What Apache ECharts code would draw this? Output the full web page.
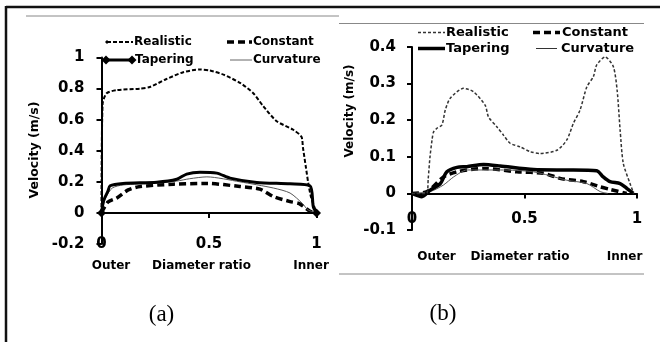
<!DOCTYPE html>
<html><head><meta charset="utf-8">
<script src="https://cdn.jsdelivr.net/npm/echarts@6/dist/echarts.min.js"></script>
<style>html,body{margin:0;padding:0;background:#fff}#c{width:660px;height:342px}</style>
</head><body><div id="c"></div>
<script>
// ---------- Panel (a) data ----------
const aRealX = [0, 0.005, 0.024, 0.07, 0.18, 0.225, 0.30, 0.38, 0.458, 0.505, 0.567, 0.644, 0.706, 0.753, 0.815, 0.892, 0.93, 0.937, 0.95, 0.962, 0.975, 1.0];
const aRealY = [0, 0.70, 0.77, 0.79, 0.80, 0.81, 0.86, 0.905, 0.923, 0.916, 0.89, 0.837, 0.77, 0.686, 0.59, 0.535, 0.49, 0.42, 0.30, 0.19, 0.10, 0];
const aTapX = [0, 0.01, 0.03, 0.04, 0.10, 0.257, 0.35, 0.396, 0.458, 0.536, 0.598, 0.722, 0.877, 0.97, 0.985, 1.0];
const aTapY = [0, 0.08, 0.14, 0.175, 0.19, 0.198, 0.217, 0.25, 0.262, 0.256, 0.224, 0.196, 0.187, 0.174, 0.04, 0];
const aConX = [0, 0.03, 0.07, 0.124, 0.18, 0.334, 0.49, 0.644, 0.737, 0.8, 0.877, 0.92, 0.97, 1.0];
const aConY = [0, 0.07, 0.095, 0.148, 0.17, 0.185, 0.19, 0.17, 0.153, 0.105, 0.073, 0.06, 0.01, 0];
const aCurX = [0, 0.02, 0.05, 0.10, 0.25, 0.35, 0.41, 0.49, 0.644, 0.8, 0.877, 0.935, 0.96, 1.0];
const aCurY = [0, 0.10, 0.16, 0.18, 0.19, 0.205, 0.22, 0.232, 0.20, 0.16, 0.128, 0.06, 0.02, 0];
// ---------- Panel (b) data ----------
const bRealX = [0, 0.065, 0.072, 0.08, 0.09, 0.096, 0.111, 0.133, 0.148, 0.17, 0.229, 0.273, 0.325, 0.34, 0.377, 0.407, 0.436, 0.481, 0.525, 0.569, 0.644, 0.688, 0.717, 0.747, 0.777, 0.806, 0.821, 0.858, 0.895, 0.912, 0.925, 0.939, 0.969, 0.985];
const bRealY = [0, 0, 0.04, 0.10, 0.15, 0.168, 0.178, 0.187, 0.228, 0.26, 0.287, 0.278, 0.241, 0.209, 0.182, 0.159, 0.137, 0.127, 0.114, 0.109, 0.118, 0.146, 0.191, 0.228, 0.291, 0.319, 0.351, 0.373, 0.346, 0.28, 0.173, 0.082, 0.027, 0];
const bTapX = [0, 0.044, 0.081, 0.126, 0.155, 0.2, 0.244, 0.318, 0.392, 0.54, 0.644, 0.717, 0.821, 0.85, 0.88, 0.925, 0.954, 0.984];
const bTapY = [0, -0.009, 0.009, 0.027, 0.059, 0.071, 0.073, 0.079, 0.075, 0.065, 0.064, 0.064, 0.062, 0.045, 0.032, 0.027, 0.014, 0];
const bConX = [0, 0.067, 0.14, 0.2, 0.318, 0.466, 0.584, 0.658, 0.762, 0.836, 0.88, 0.954];
const bConY = [0, 0.005, 0.045, 0.059, 0.068, 0.059, 0.055, 0.041, 0.032, 0.018, 0.011, 0];
const bCurX = [0, 0.081, 0.14, 0.185, 0.244, 0.392, 0.54, 0.688, 0.777, 0.836, 0.87];
const bCurY = [0, 0.005, 0.023, 0.045, 0.064, 0.064, 0.059, 0.036, 0.027, 0.005, 0];
// ---------- labels ----------
const seriesNames = ['Realistic', 'Constant', 'Tapering', 'Curvature'];
const yTitle = 'Velocity (m/s)';
const xTitles = ['Outer', 'Diameter ratio', 'Inner'];
const panelLabels = ['(a)', '(b)'];

const pairs = (xs, ys) => xs.map((x, i) => [x, ys[i]]);
const SANS = 'DejaVu Sans';
const BLACK = '#000';

function tapData(xs, ys) {
  return xs.map((x, i) => {
    const d = { value: [x, ys[i]] };
    if (i === 0 || i === xs.length - 1) d.symbol = 'diamond', d.symbolSize = 9;
    return d;
  });
}

function yAxis(gi, min, max, interval, margin) {
  return {
    type: 'value', gridIndex: gi, min, max, interval,
    axisLine: { show: true, lineStyle: { color: BLACK, width: 2 } },
    axisTick: { show: true, length: 5, lineStyle: { color: BLACK, width: 2 } },
    splitLine: { show: false },
    axisLabel: { color: BLACK, fontFamily: SANS, fontWeight: 'bold', fontSize: 15, margin,
      formatter: v => String(Math.round(v * 10) / 10) }
  };
}
function xAxis(gi, margin) {
  return {
    type: 'value', gridIndex: gi, min: 0, max: 1, interval: 0.5,
    axisLine: { show: true, onZero: true, lineStyle: { color: BLACK, width: 2 } },
    axisTick: { show: true, length: 5, lineStyle: { color: BLACK, width: 2 } },
    splitLine: { show: false },
    axisLabel: { color: BLACK, fontFamily: SANS, fontWeight: 'bold', fontSize: 15, margin,
      formatter: v => String(v) }
  };
}
function txt(x, y, text, size, opts) {
  return Object.assign({
    type: 'text', x, y, silent: true,
    style: Object.assign({ text, fill: BLACK, fontFamily: SANS, fontWeight: 'bold', fontSize: size,
      align: 'left', verticalAlign: 'middle' }, (opts && opts.style) || {})
  }, opts && opts.rotation ? { rotation: opts.rotation } : {});
}
function hline(x1, x2, y, stroke, width, dash) {
  return { type: 'line', silent: true, shape: { x1, y1: y, x2, y2: y },
    style: { stroke, lineWidth: width, lineDash: dash || null } };
}
function diamond(cx, cy, r) {
  return { type: 'polygon', silent: true,
    shape: { points: [[cx, cy - r], [cx + r, cy], [cx, cy + r], [cx - r, cy]] },
    style: { fill: BLACK } };
}

const graphics = [
  // frame
  { type: 'line', silent: true, shape: { x1: 6, y1: 7, x2: 660, y2: 7 }, style: { stroke: '#111', lineWidth: 2.5 } },
  { type: 'line', silent: true, shape: { x1: 6, y1: 6, x2: 6, y2: 342 }, style: { stroke: '#111', lineWidth: 2.5 } },
  hline(26, 339, 16, '#888', 1),
  hline(339, 644, 23.5, '#888', 1),
  hline(339, 644, 274, '#888', 1),
  // legend (a)
  diamond(107, 42, 2),
  hline(107, 133, 42, BLACK, 2, [4, 2]), txt(134, 42, seriesNames[0], 12),
  hline(227, 252, 42, BLACK, 3.5, [7, 4]), txt(253, 42, seriesNames[1], 12),
  hline(106, 132, 60, BLACK, 3), diamond(106, 60, 4.5), diamond(132, 60, 4.5), txt(135, 60, seriesNames[2], 12),
  hline(230, 252, 60, '#666', 1), txt(253, 60, seriesNames[3], 12),
  // legend (b)
  hline(418, 445, 32.5, '#333', 1.5, [3, 2]), txt(446, 32.5, seriesNames[0], 13),
  hline(533, 560, 32.5, BLACK, 3.5, [7, 4]), txt(562, 32.5, seriesNames[1], 13),
  hline(418, 445, 48.5, BLACK, 3.5), txt(446, 48.5, seriesNames[2], 13),
  hline(536, 557, 48.5, '#333', 1), txt(561, 48.5, seriesNames[3], 13),
  // axis titles
  txt(35, 150, yTitle, 12.5, { rotation: Math.PI / 2, style: { align: 'center' } }),
  txt(350, 111, yTitle, 12, { rotation: Math.PI / 2, style: { align: 'center' } }),
  txt(111, 266, xTitles[0], 12, { style: { align: 'center' } }),
  txt(201.5, 266, xTitles[1], 12, { style: { align: 'center' } }),
  txt(311, 266, xTitles[2], 12, { style: { align: 'center' } }),
  txt(436.5, 257, xTitles[0], 12, { style: { align: 'center' } }),
  txt(520, 257, xTitles[1], 12, { style: { align: 'center' } }),
  txt(624.5, 257, xTitles[2], 12, { style: { align: 'center' } }),
  txt(161.5, 315, panelLabels[0], 23, { style: { align: 'center', fontFamily: 'Liberation Serif', fontWeight: 'normal' } }),
  txt(443, 314, panelLabels[1], 23, { style: { align: 'center', fontFamily: 'Liberation Serif', fontWeight: 'normal' } })
];

function lineSeries(name, gi, data, width, color, dash, extra) {
  return Object.assign({
    type: 'line', name, xAxisIndex: gi, yAxisIndex: gi, data,
    symbol: 'none', smooth: 0.25, animation: false,
    lineStyle: { color, width, type: dash || 'solid' },
    itemStyle: { color }
  }, extra || {});
}

const option = {
  animation: false,
  backgroundColor: '#fff',
  grid: [
    { left: 101.5, top: 57.5, width: 215, height: 186.5 },
    { left: 412, top: 47, width: 225, height: 183 }
  ],
  xAxis: [xAxis(0, -7), xAxis(1, -18)],
  yAxis: [yAxis(0, -0.2, 1, 0.2, 17), yAxis(1, -0.1, 0.4, 0.1, 16)],
  series: [
    lineSeries(seriesNames[1], 0, pairs(aConX, aConY), 3.5, BLACK, [7, 4]),
    lineSeries(seriesNames[3], 0, pairs(aCurX, aCurY), 1, '#555'),
    lineSeries(seriesNames[2], 0, tapData(aTapX, aTapY), 3, BLACK, null, { symbol: 'none', showSymbol: true }),
    lineSeries(seriesNames[0], 0, pairs(aRealX, aRealY), 2, BLACK, [4, 2]),
    lineSeries(seriesNames[1], 1, pairs(bConX, bConY), 3.5, BLACK, [7, 4]),
    lineSeries(seriesNames[3], 1, pairs(bCurX, bCurY), 1, '#555'),
    lineSeries(seriesNames[2], 1, pairs(bTapX, bTapY), 3.5, BLACK),
    lineSeries(seriesNames[0], 1, pairs(bRealX, bRealY), 1.5, '#333', [3, 2])
  ],
  graphic: graphics
};
const chart = echarts.init(document.getElementById('c'), null, { renderer: 'canvas' });
chart.setOption(option);
</script></body></html>
